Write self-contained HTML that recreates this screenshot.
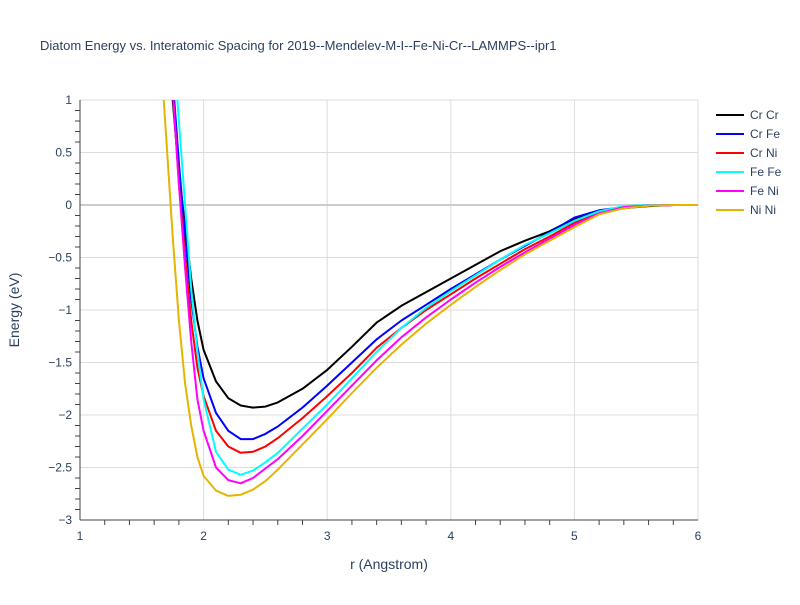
<!DOCTYPE html>
<html><head><meta charset="utf-8"><style>
body{margin:0;background:#fff;font-family:"Liberation Sans",sans-serif;}
</style></head><body>
<svg id="chart" width="800" height="600" xmlns="http://www.w3.org/2000/svg" font-family="Liberation Sans, sans-serif">
<rect width="800" height="600" fill="#fff"/>
<text x="40" y="50" font-size="13" fill="#2a3f5f">Diatom Energy vs. Interatomic Spacing for 2019--Mendelev-M-I--Fe-Ni-Cr--LAMMPS--ipr1</text>
<defs><clipPath id="plotclip"><rect x="80" y="100" width="618" height="420"/></clipPath></defs>
<g id="grid"></g>
<g id="series" clip-path="url(#plotclip)"></g>
<g id="axes"></g>
<text x="389" y="569" font-size="14" fill="#2a3f5f" text-anchor="middle">r (Angstrom)</text>
<text transform="translate(19,310) rotate(-90)" font-size="14" fill="#2a3f5f" text-anchor="middle">Energy (eV)</text>
<g id="legend"></g>
</svg>
<script>
const rGrid=[1.65,1.7,1.75,1.8,1.85,1.9,1.95,2.0,2.1,2.2,2.3,2.4,2.5,2.6,2.8,3.0,3.2,3.4,3.6,3.8,4.0,4.2,4.4,4.6,4.8,5.0,5.2,5.4,5.6,5.8,6.0];
const seriesNames=["Cr Cr","Cr Fe","Cr Ni","Fe Fe","Fe Ni","Ni Ni"];
const seriesColors=["#000000","#0000ff","#ff0000","#00ffff","#ff00ff","#e6b400"];
const crCr=[4,2.5,1.0,0.3,-0.2,-0.7,-1.1,-1.38,-1.68,-1.84,-1.91,-1.93,-1.92,-1.88,-1.75,-1.57,-1.35,-1.12,-0.96,-0.83,-0.7,-0.57,-0.44,-0.34,-0.25,-0.13,-0.06,-0.03,-0.01,0,0];
const crFe=[4,2.8,1.2,0.4,-0.3,-0.9,-1.35,-1.65,-1.98,-2.15,-2.23,-2.23,-2.18,-2.11,-1.93,-1.72,-1.5,-1.28,-1.1,-0.95,-0.8,-0.66,-0.52,-0.39,-0.26,-0.12,-0.05,-0.02,-0.005,0,0];
const crNi=[4,2.8,1.1,0.2,-0.5,-1.1,-1.55,-1.82,-2.15,-2.3,-2.36,-2.35,-2.3,-2.22,-2.03,-1.82,-1.6,-1.36,-1.17,-1.0,-0.85,-0.7,-0.56,-0.42,-0.3,-0.17,-0.07,-0.02,-0.005,0,0];
const feFe=[4,3.2,1.6,0.8,0.0,-0.8,-1.4,-1.85,-2.35,-2.52,-2.57,-2.53,-2.45,-2.36,-2.13,-1.9,-1.65,-1.4,-1.17,-0.98,-0.82,-0.67,-0.52,-0.38,-0.27,-0.15,-0.06,-0.01,0,0,0];
const feNi=[4,2.8,1.1,0.2,-0.6,-1.3,-1.85,-2.15,-2.5,-2.62,-2.65,-2.6,-2.51,-2.42,-2.2,-1.96,-1.72,-1.48,-1.26,-1.07,-0.9,-0.74,-0.59,-0.45,-0.32,-0.19,-0.08,-0.02,-0.005,0,0];
const niNi=[1.5,0.6,-0.3,-1.1,-1.7,-2.1,-2.4,-2.58,-2.72,-2.77,-2.76,-2.71,-2.63,-2.52,-2.28,-2.04,-1.79,-1.55,-1.33,-1.13,-0.95,-0.78,-0.62,-0.47,-0.34,-0.21,-0.09,-0.03,-0.008,0,0];
const seriesValues=[crCr,crFe,crNi,feFe,feNi,niNi];
const xTicks=[1,2,3,4,5,6];
const yTicks=[1,0.5,0,-0.5,-1,-1.5,-2,-2.5,-3];
const yTickLabels=["1","0.5","0","−0.5","−1","−1.5","−2","−2.5","−3"];
const NS="http://www.w3.org/2000/svg";
function xs(r){return 80+(r-1)*123.6;}
function ys(e){return 205-e*105;}
function mk(tag,attrs,parent){const el=document.createElementNS(NS,tag);for(const k in attrs)el.setAttribute(k,attrs[k]);parent.appendChild(el);return el;}
const grid=document.getElementById('grid'),axes=document.getElementById('axes'),ser=document.getElementById('series'),leg=document.getElementById('legend');
xTicks.forEach(t=>{
  const l=mk('line',{x1:xs(t),x2:xs(t),y1:100,y2:520,stroke:'#ddd','stroke-width':1},grid);
  
  
  const tx=mk('text',{x:xs(t),y:540,'font-size':12,fill:'#2a3f5f','text-anchor':'middle'},axes);
  tx.textContent=t;
  
  
});
for(let i=0;i<5;i++){for(let j=1;j<5;j++){const r=xTicks[i]+j*0.2;
  const m=mk('line',{x1:xs(r),x2:xs(r),y1:520,y2:525,stroke:'#444','stroke-width':1},axes);
  
  }}
yTicks.forEach((t,i)=>{
  const l=mk('line',{x1:80,x2:698,y1:ys(t),y2:ys(t),stroke:t===0?'#ccc':'#ddd','stroke-width':t===0?2:1},grid);
  
  
  const tx=mk('text',{x:72,y:ys(t)+4,'font-size':12,fill:'#2a3f5f','text-anchor':'end'},axes);
  tx.textContent=yTickLabels[i];
  
  
});
for(let k=0;k<8;k++){for(let j=1;j<5;j++){const e=1-k*0.5-j*0.1;
  const m=mk('line',{x1:75,x2:80,y1:ys(e),y2:ys(e),stroke:'#444','stroke-width':1},axes);
  
  }}
const xa=mk('line',{x1:80,x2:698,y1:520,y2:520,stroke:'#444','stroke-width':1},axes);


const ya=mk('line',{x1:80,x2:80,y1:100,y2:520,stroke:'#444','stroke-width':1},axes);


seriesValues.forEach((vals,si)=>{
  const pts=vals.map((v,i)=>xs(rGrid[i]).toFixed(1)+','+ys(v).toFixed(1)).join(' ');
  const p=mk('polyline',{points:pts,fill:'none',stroke:seriesColors[si],'stroke-width':2,'stroke-linejoin':'round'},ser);
  
  
  const y=115+si*19;
  const g=mk('g',{},leg);
  
  
  mk('line',{x1:716,x2:744,y1:y,y2:y,stroke:seriesColors[si],'stroke-width':2},g);
  const t=mk('text',{x:750,y:y+4,'font-size':12,fill:'#2a3f5f'},g);
  t.textContent=seriesNames[si];
});
</script>
</body></html>
